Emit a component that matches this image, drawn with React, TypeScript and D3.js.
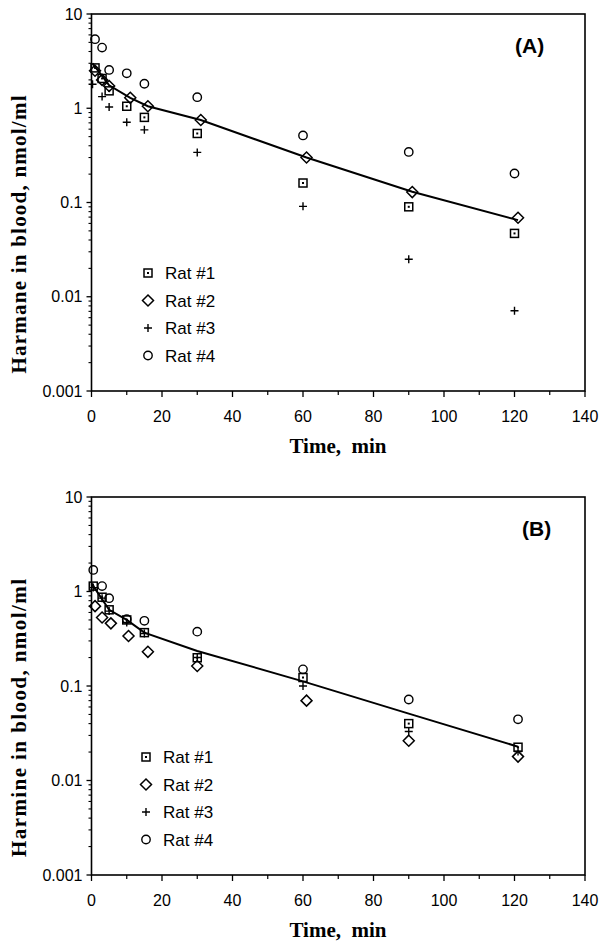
import React from "react";
import * as d3 from "d3";

// ---------- data ----------
const seriesNames = ["Rat #1", "Rat #2", "Rat #3", "Rat #4"];
const xTickValues = [0, 20, 40, 60, 80, 100, 120, 140];
const yTickValues = [0.001, 0.01, 0.1, 1, 10];

// Panel A (Harmane)
const rat1A_t = [1, 3, 5, 10, 15, 30, 60, 90, 120];
const rat1A_v = [2.68, 2.07, 1.53, 1.05, 0.8, 0.54, 0.161, 0.09, 0.047];
const rat2A_t = [1, 3, 5, 11, 16, 31, 61, 91, 121];
const rat2A_v = [2.5, 2.0, 1.72, 1.29, 1.05, 0.75, 0.3, 0.129, 0.069];
const rat3A_t = [0.3, 3, 5, 10, 15, 30, 60, 90, 120];
const rat3A_v = [1.8, 1.33, 1.03, 0.71, 0.59, 0.34, 0.091, 0.025, 0.0071];
const rat4A_t = [1, 3, 5, 10, 15, 30, 60, 90, 120];
const rat4A_v = [5.4, 4.4, 2.55, 2.35, 1.82, 1.31, 0.515, 0.344, 0.203];
const fitA_t = [0.3, 5, 11, 16, 31, 61, 91, 121];
const fitA_v = [3.0, 1.75, 1.29, 1.05, 0.75, 0.3, 0.13, 0.065];

// Panel B (Harmine)
const rat1B_t = [0.5, 3, 5, 10, 15, 30, 60, 90, 121];
const rat1B_v = [1.14, 0.87, 0.64, 0.5, 0.367, 0.199, 0.123, 0.04, 0.0225];
const rat2B_t = [1, 3, 5.5, 10.5, 16, 30, 61, 90, 121];
const rat2B_v = [0.7, 0.53, 0.46, 0.338, 0.23, 0.163, 0.07, 0.0264, 0.0179];
const rat3B_t = [0.5, 3, 5, 10, 15, 30, 60, 90, 121];
const rat3B_v = [1.1, 0.85, 0.62, 0.47, 0.36, 0.2, 0.1, 0.033, 0.0203];
const rat4B_t = [0.5, 3, 5, 10, 15, 30, 60, 90, 121];
const rat4B_v = [1.69, 1.14, 0.85, 0.51, 0.49, 0.376, 0.15, 0.072, 0.0444];
const fitB_t = [0, 5, 10, 15, 30, 60, 90, 121];
const fitB_v = [1.22, 0.64, 0.5, 0.367, 0.235, 0.112, 0.051, 0.0228];

const SANS = "'Liberation Sans', Arial, Helvetica, sans-serif";
const SERIF = "'Liberation Serif', 'Times New Roman', serif";

type PanelProps = {
  top: number;
  bottom: number;
  series: [number[], number[]][];
  fit: [number[], number[]];
  label: string;
  tag: string;
  tagX: number;
  legendX: number;
  legendY: number[];
};

function Marker({ kind, x, y }: { kind: number; x: number; y: number }) {
  if (kind === 0) {
    return (
      <g>
        <rect x={x - 4} y={y - 4} width={8} height={8} fill="none" stroke="#000" strokeWidth={1.5} />
        <rect x={x - 1} y={y - 1} width={2} height={2} fill="#000" />
      </g>
    );
  }
  if (kind === 1) {
    const r = 5.5;
    return (
      <path
        d={`M${x},${y - r}L${x + r},${y}L${x},${y + r}L${x - r},${y}Z`}
        fill="none"
        stroke="#000"
        strokeWidth={1.5}
      />
    );
  }
  if (kind === 2) {
    return (
      <path d={`M${x - 4},${y}H${x + 4}M${x},${y - 4}V${y + 4}`} stroke="#000" strokeWidth={1.4} />
    );
  }
  return <circle cx={x} cy={y} r={4.2} fill="none" stroke="#000" strokeWidth={1.4} />;
}

function Panel({ top, bottom, series, fit, label, tag, tagX, legendX, legendY }: PanelProps) {
  const x = d3.scaleLinear().domain([0, 140]).range([91.5, 585]);
  const y = d3.scaleLog().domain([0.001, 10]).range([bottom, top]);
  const line = d3
    .line<[number, number]>()
    .x((d) => x(d[0]))
    .y((d) => y(d[1]));
  const fitPts: [number, number][] = fit[0].map((t, i) => [t, fit[1][i]]);

  const minorY: number[] = [];
  for (let e = -3; e < 1; e++) {
    for (let m = 2; m <= 9; m++) minorY.push(m * Math.pow(10, e));
  }
  const minorX = d3.range(10, 140, 20);
  const fmt = (v: number) => (v >= 1 ? String(v) : String(v));

  return (
    <g>
      {/* frame */}
      <rect
        x={x(0)}
        y={y(10)}
        width={x(140) - x(0)}
        height={y(0.001) - y(10)}
        fill="none"
        stroke="#000"
        strokeWidth={1.6}
      />
      {/* y ticks */}
      {yTickValues.map((v) => (
        <g key={"yt" + v}>
          <line x1={x(0) - 5} x2={x(0)} y1={y(v)} y2={y(v)} stroke="#000" strokeWidth={1.3} />
          <text
            x={x(0) - 9}
            y={y(v) + 5.5}
            textAnchor="end"
            fontFamily={SANS}
            fontSize={16}
          >
            {fmt(v)}
          </text>
        </g>
      ))}
      {minorY.map((v) => (
        <line
          key={"ym" + v}
          x1={x(0) - 3}
          x2={x(0)}
          y1={y(v)}
          y2={y(v)}
          stroke="#000"
          strokeWidth={1.1}
        />
      ))}
      {/* x ticks */}
      {xTickValues.map((t) => (
        <g key={"xt" + t}>
          <line x1={x(t)} x2={x(t)} y1={y(0.001)} y2={y(0.001) + 6} stroke="#000" strokeWidth={1.3} />
          <text x={x(t)} y={y(0.001) + 31} textAnchor="middle" fontFamily={SANS} fontSize={16}>
            {t}
          </text>
        </g>
      ))}
      {minorX.map((t) => (
        <line
          key={"xm" + t}
          x1={x(t)}
          x2={x(t)}
          y1={y(0.001)}
          y2={y(0.001) + 4}
          stroke="#000"
          strokeWidth={1.2}
        />
      ))}
      {/* axis titles */}
      <text
        x={338}
        y={y(0.001) + 62}
        textAnchor="middle"
        fontFamily={SERIF}
        fontWeight="bold"
        fontSize={21}
        style={{ whiteSpace: "pre" }}
      >
        {"Time,  min"}
      </text>
      <text
        transform={`translate(26,${(top + bottom) / 2 + 32}) rotate(-90)`}
        textAnchor="middle"
        fontFamily={SERIF}
        fontWeight="bold"
        fontSize={21}
        textLength={278}
        lengthAdjust="spacing"
      >
        {label}
      </text>
      {/* fit line */}
      <path d={line(fitPts) || ""} fill="none" stroke="#000" strokeWidth={2} />
      {/* points */}
      {series.map((s, k) =>
        s[0].map((t, i) => <Marker key={`p${k}-${i}`} kind={k} x={x(t)} y={y(s[1][i])} />)
      )}
      {/* tag */}
      <text x={tagX} y={top + 39} fontFamily={SANS} fontWeight="bold" fontSize={21}>
        {tag}
      </text>
      {/* legend */}
      {seriesNames.map((n, k) => (
        <g key={"lg" + k}>
          <Marker kind={k} x={legendX} y={legendY[k]} />
          <text x={legendX + 17} y={legendY[k] + 6} fontFamily={SANS} fontSize={17}>
            {n}
          </text>
        </g>
      ))}
    </g>
  );
}

export default function App() {
  return (
    <svg
      width={602}
      height={950}
      viewBox="0 0 602 950"
      style={{ position: "absolute", left: 0, top: 0, background: "#fff", display: "block" }}
    >
      <rect x={0} y={0} width={602} height={950} fill="#fff" />
      <Panel
        top={14}
        bottom={391}
        series={[
          [rat1A_t, rat1A_v],
          [rat2A_t, rat2A_v],
          [rat3A_t, rat3A_v],
          [rat4A_t, rat4A_v],
        ]}
        fit={[fitA_t, fitA_v]}
        label="Harmane in blood, nmol/ml"
        tag="(A)"
        tagX={515}
        legendX={148}
        legendY={[273, 300.5, 328, 355.5]}
      />
      <Panel
        top={497}
        bottom={875}
        series={[
          [rat1B_t, rat1B_v],
          [rat2B_t, rat2B_v],
          [rat3B_t, rat3B_v],
          [rat4B_t, rat4B_v],
        ]}
        fit={[fitB_t, fitB_v]}
        label="Harmine in blood, nmol/ml"
        tag="(B)"
        tagX={522}
        legendX={146}
        legendY={[757, 784.5, 812, 839.5]}
      />
    </svg>
  );
}
